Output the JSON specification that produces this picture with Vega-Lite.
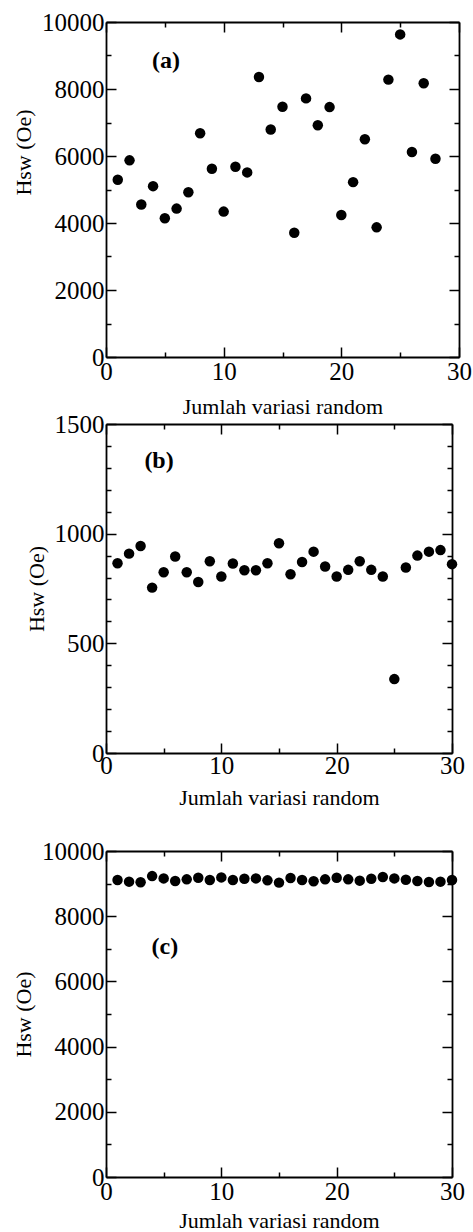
{
  "$schema": "https://vega.github.io/schema/vega-lite/v6.json",
  "padding": {"left": 12, "top": 10, "right": 0, "bottom": 0},
  "spacing": -5,
  "config": {
    "view": {"stroke": null},
    "font": "Liberation Serif",
    "axis": {
      "labelFont": "Liberation Serif", "labelFontSize": 25, "labelColor": "black",
      "titleFont": "Liberation Serif", "titleFontSize": 22, "titleFontWeight": "normal", "titleColor": "black",
      "domainColor": "black", "domainWidth": 1.8, "tickColor": "black", "tickWidth": 1.5,
      "labelFlush": false, "labelOverlap": false, "grid": false
    }
  },
  "datasets": {
    "a": [
      {"n": 1, "hsw": 5290}, {"n": 2, "hsw": 5870}, {"n": 3, "hsw": 4550}, {"n": 4, "hsw": 5100},
      {"n": 5, "hsw": 4140}, {"n": 6, "hsw": 4430}, {"n": 7, "hsw": 4920}, {"n": 8, "hsw": 6680},
      {"n": 9, "hsw": 5620}, {"n": 10, "hsw": 4340}, {"n": 11, "hsw": 5680}, {"n": 12, "hsw": 5510},
      {"n": 13, "hsw": 8360}, {"n": 14, "hsw": 6790}, {"n": 15, "hsw": 7470}, {"n": 16, "hsw": 3710},
      {"n": 17, "hsw": 7720}, {"n": 18, "hsw": 6920}, {"n": 19, "hsw": 7460}, {"n": 20, "hsw": 4240},
      {"n": 21, "hsw": 5220}, {"n": 22, "hsw": 6500}, {"n": 23, "hsw": 3870}, {"n": 24, "hsw": 8280},
      {"n": 25, "hsw": 9630}, {"n": 26, "hsw": 6120}, {"n": 27, "hsw": 8170}, {"n": 28, "hsw": 5920}
    ],
    "b": [
      {"n": 1, "hsw": 865}, {"n": 2, "hsw": 909}, {"n": 3, "hsw": 944}, {"n": 4, "hsw": 754},
      {"n": 5, "hsw": 824}, {"n": 6, "hsw": 896}, {"n": 7, "hsw": 824}, {"n": 8, "hsw": 780},
      {"n": 9, "hsw": 874}, {"n": 10, "hsw": 805}, {"n": 11, "hsw": 864}, {"n": 12, "hsw": 833},
      {"n": 13, "hsw": 833}, {"n": 14, "hsw": 865}, {"n": 15, "hsw": 956}, {"n": 16, "hsw": 815},
      {"n": 17, "hsw": 871}, {"n": 18, "hsw": 918}, {"n": 19, "hsw": 850}, {"n": 20, "hsw": 805},
      {"n": 21, "hsw": 835}, {"n": 22, "hsw": 874}, {"n": 23, "hsw": 835}, {"n": 24, "hsw": 805},
      {"n": 25, "hsw": 337}, {"n": 26, "hsw": 846}, {"n": 27, "hsw": 900}, {"n": 28, "hsw": 918},
      {"n": 29, "hsw": 925}, {"n": 30, "hsw": 861}
    ],
    "c": [
      {"n": 1, "hsw": 9110}, {"n": 2, "hsw": 9060}, {"n": 3, "hsw": 9040}, {"n": 4, "hsw": 9230},
      {"n": 5, "hsw": 9160}, {"n": 6, "hsw": 9080}, {"n": 7, "hsw": 9130}, {"n": 8, "hsw": 9180},
      {"n": 9, "hsw": 9110}, {"n": 10, "hsw": 9190}, {"n": 11, "hsw": 9110}, {"n": 12, "hsw": 9150},
      {"n": 13, "hsw": 9160}, {"n": 14, "hsw": 9100}, {"n": 15, "hsw": 9030}, {"n": 16, "hsw": 9170},
      {"n": 17, "hsw": 9110}, {"n": 18, "hsw": 9070}, {"n": 19, "hsw": 9130}, {"n": 20, "hsw": 9180},
      {"n": 21, "hsw": 9130}, {"n": 22, "hsw": 9090}, {"n": 23, "hsw": 9150}, {"n": 24, "hsw": 9200},
      {"n": 25, "hsw": 9160}, {"n": 26, "hsw": 9120}, {"n": 27, "hsw": 9080}, {"n": 28, "hsw": 9050},
      {"n": 29, "hsw": 9060}, {"n": 30, "hsw": 9110}
    ]
  },
  "vconcat": [
    {
      "width": 353, "height": 335,
      "layer": [
        {
          "data": {"name": "a"},
          "mark": {"type": "point", "filled": true, "size": 110, "color": "black", "opacity": 1},
          "encoding": {
            "x": {"field": "n", "type": "quantitative", "scale": {"domain": [0, 30], "nice": false, "zero": false},
              "axis": {"orient": "bottom", "title": "Jumlah variasi random", "values": [0, 5, 10, 15, 20, 25, 30], "format": "d",
                "labelExpr": "datum.value % 10 === 0 ? datum.label : ''",
                "tickSize": {"condition": {"test": "datum.value % 10 === 0", "value": -10}, "value": -5},
                "labelPadding": 12, "titlePadding": 7}},
            "y": {"field": "hsw", "type": "quantitative", "scale": {"domain": [0, 10000], "nice": false},
              "axis": {"orient": "left", "title": "Hsw (Oe)", "values": [0, 1000, 2000, 3000, 4000, 5000, 6000, 7000, 8000, 9000, 10000], "format": "d",
                "labelExpr": "datum.value % 2000 === 0 ? datum.label : ''",
                "tickSize": {"condition": {"test": "datum.value % 2000 === 0", "value": -10}, "value": -5},
                "labelPadding": 12, "titlePadding": 6, "titleY": 130}}
          }
        },
        {
          "data": {"values": [{"label": "(a)"}]},
          "mark": {"type": "text", "font": "Liberation Serif", "fontWeight": "bold", "fontSize": 24, "color": "black", "align": "center", "baseline": "middle"},
          "encoding": {
            "text": {"field": "label"},
            "x": {"datum": 5.1, "type": "quantitative", "scale": {"domain": [0, 30], "nice": false, "zero": false},
              "axis": {"orient": "top", "labels": false, "title": null, "values": [0, 5, 10, 15, 20, 25, 30],
                "tickSize": {"condition": {"test": "datum.value % 10 === 0", "value": -10}, "value": -5}}},
            "y": {"datum": 8840, "type": "quantitative", "scale": {"domain": [0, 10000], "nice": false},
              "axis": {"orient": "right", "labels": false, "title": null, "values": [0, 1000, 2000, 3000, 4000, 5000, 6000, 7000, 8000, 9000, 10000],
                "tickSize": {"condition": {"test": "datum.value % 2000 === 0", "value": -10}, "value": -5}}}
          }
        }
      ],
      "resolve": {"axis": {"x": "independent", "y": "independent"}}
    },
    {
      "width": 346, "height": 329,
      "layer": [
        {
          "data": {"name": "b"},
          "mark": {"type": "point", "filled": true, "size": 110, "color": "black", "opacity": 1},
          "encoding": {
            "x": {"field": "n", "type": "quantitative", "scale": {"domain": [0, 30], "nice": false, "zero": false},
              "axis": {"orient": "bottom", "title": "Jumlah variasi random", "values": [0, 5, 10, 15, 20, 25, 30], "format": "d",
                "labelExpr": "datum.value % 10 === 0 ? datum.label : ''",
                "tickSize": {"condition": {"test": "datum.value % 10 === 0", "value": -10}, "value": -5},
                "labelPadding": 10, "titlePadding": 4}},
            "y": {"field": "hsw", "type": "quantitative", "scale": {"domain": [0, 1500], "nice": false},
              "axis": {"orient": "left", "title": "Hsw (Oe)", "values": [0, 100, 200, 300, 400, 500, 600, 700, 800, 900, 1000, 1100, 1200, 1300, 1400, 1500], "format": "d",
                "labelExpr": "datum.value % 500 === 0 ? datum.label : ''",
                "tickSize": {"condition": {"test": "datum.value % 500 === 0", "value": -10}, "value": -5},
                "labelPadding": 12, "titlePadding": 6}}
          }
        },
        {
          "data": {"values": [{"label": "(b)"}]},
          "mark": {"type": "text", "font": "Liberation Serif", "fontWeight": "bold", "fontSize": 24, "color": "black", "align": "center", "baseline": "middle"},
          "encoding": {
            "text": {"field": "label"},
            "x": {"datum": 4.6, "type": "quantitative", "scale": {"domain": [0, 30], "nice": false, "zero": false},
              "axis": {"orient": "top", "labels": false, "title": null, "values": [0, 5, 10, 15, 20, 25, 30],
                "tickSize": {"condition": {"test": "datum.value % 10 === 0", "value": -10}, "value": -5}}},
            "y": {"datum": 1330, "type": "quantitative", "scale": {"domain": [0, 1500], "nice": false},
              "axis": {"orient": "right", "labels": false, "title": null, "values": [0, 100, 200, 300, 400, 500, 600, 700, 800, 900, 1000, 1100, 1200, 1300, 1400, 1500],
                "tickSize": {"condition": {"test": "datum.value % 500 === 0", "value": -10}, "value": -5}}}
          }
        }
      ],
      "resolve": {"axis": {"x": "independent", "y": "independent"}}
    },
    {
      "width": 346, "height": 326,
      "title": {"text": " ", "fontSize": 20, "offset": 16},
      "layer": [
        {
          "data": {"name": "c"},
          "mark": {"type": "point", "filled": true, "size": 110, "color": "black", "opacity": 1},
          "encoding": {
            "x": {"field": "n", "type": "quantitative", "scale": {"domain": [0, 30], "nice": false, "zero": false},
              "axis": {"orient": "bottom", "title": "Jumlah variasi random", "values": [0, 5, 10, 15, 20, 25, 30], "format": "d",
                "labelExpr": "datum.value % 10 === 0 ? datum.label : ''",
                "tickSize": {"condition": {"test": "datum.value % 10 === 0", "value": -10}, "value": -5},
                "labelPadding": 12, "titlePadding": 1}},
            "y": {"field": "hsw", "type": "quantitative", "scale": {"domain": [0, 10000], "nice": false},
              "axis": {"orient": "left", "title": "Hsw (Oe)", "values": [0, 1000, 2000, 3000, 4000, 5000, 6000, 7000, 8000, 9000, 10000], "format": "d",
                "labelExpr": "datum.value % 2000 === 0 ? datum.label : ''",
                "tickSize": {"condition": {"test": "datum.value % 2000 === 0", "value": -10}, "value": -5},
                "labelPadding": 12, "titlePadding": 6}}
          }
        },
        {
          "data": {"values": [{"label": "(c)"}]},
          "mark": {"type": "text", "font": "Liberation Serif", "fontWeight": "bold", "fontSize": 24, "color": "black", "align": "center", "baseline": "middle"},
          "encoding": {
            "text": {"field": "label"},
            "x": {"datum": 5.1, "type": "quantitative", "scale": {"domain": [0, 30], "nice": false, "zero": false},
              "axis": {"orient": "top", "labels": false, "title": null, "values": [0, 5, 10, 15, 20, 25, 30],
                "tickSize": {"condition": {"test": "datum.value % 10 === 0", "value": -10}, "value": -5}}},
            "y": {"datum": 7070, "type": "quantitative", "scale": {"domain": [0, 10000], "nice": false},
              "axis": {"orient": "right", "labels": false, "title": null, "values": [0, 1000, 2000, 3000, 4000, 5000, 6000, 7000, 8000, 9000, 10000],
                "tickSize": {"condition": {"test": "datum.value % 2000 === 0", "value": -10}, "value": -5}}}
          }
        }
      ],
      "resolve": {"axis": {"x": "independent", "y": "independent"}}
    }
  ]
}
